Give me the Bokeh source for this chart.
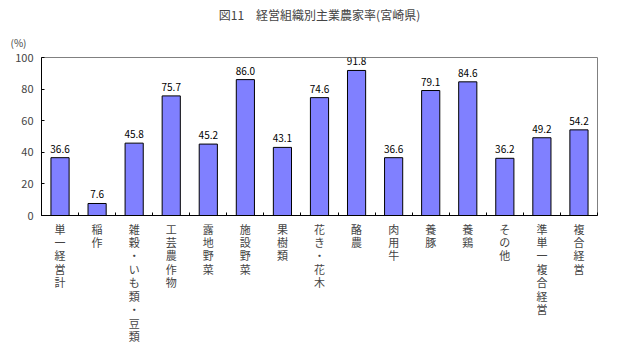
from bokeh.plotting import figure
from bokeh.models import Range1d, FixedTicker, Title, ColumnDataSource
from bokeh.core.properties import value
from bokeh.embed import file_html
from bokeh.resources import INLINE

categories = ["単一経営計", "稲作", "雑穀・いも類・豆類", "工芸農作物", "露地野菜", "施設野菜",
              "果樹類", "花き・花木", "酪農", "肉用牛", "養豚", "養鶏", "その他",
              "準単一複合経営", "複合経営"]
rates = [36.6, 7.6, 45.8, 75.7, 45.2, 86.0, 43.1, 74.6, 91.8, 36.6, 79.1, 84.6, 36.2, 49.2, 54.2]
y_ticks = [0, 20, 40, 60, 80, 100]

FONT = "Noto Sans CJK JP"
FW, FH = 556, 158
xs = [i + 0.5 for i in range(len(categories))]
src = ColumnDataSource(dict(x=xs, y=rates, lab=[f"{v:.1f}" for v in rates]))

p = figure(frame_width=FW, frame_height=FH, output_backend="svg", toolbar_location=None,
           x_range=Range1d(0, len(categories)), y_range=Range1d(0, 100),
           min_border_left=41, min_border_right=10, min_border_top=56, min_border_bottom=2)
p.title = None
p.xgrid.visible = False
p.ygrid.visible = False
p.outline_line_color = "#808080"
p.background_fill_color = "white"

p.vbar(x="x", top="y", width=0.49, source=src, fill_color="#8080FF", line_color="black", line_width=1)
p.text(x="x", y="y", text="lab", source=src, y_offset=-5, text_align="center", text_baseline="bottom",
       text_font=value(FONT), text_font_size="10px", text_color="black")

xa = p.xaxis[0]
xa.ticker = FixedTicker(ticks=xs, minor_ticks=list(range(len(categories) + 1)))
xa.major_label_overrides = {x: "\n".join(list(c)) for x, c in zip(xs, categories)}
xa.major_tick_in = 0
xa.major_tick_out = 0
xa.minor_tick_in = 3
xa.minor_tick_out = 0
xa.axis_line_color = "black"
xa.major_label_text_font = FONT
xa.major_label_text_font_size = "11px"
xa.major_label_standoff = 5
xa.major_label_text_line_height = 0.84

ya = p.yaxis[0]
ya.ticker = FixedTicker(ticks=y_ticks)
ya.major_tick_in = 3
ya.major_tick_out = 0
ya.minor_tick_line_color = None
ya.axis_line_color = "black"
ya.major_label_text_font = FONT
ya.major_label_text_font_size = "11px"
ya.major_label_standoff = 8

p.add_layout(Title(text="(%)", align="left", offset=-31, text_font=FONT, text_font_size="10px",
                   text_font_style="normal", standoff=15), "above")
p.add_layout(Title(text="図11　経営組織別主業農家率(宮崎県)", align="center", offset=-16, text_font=FONT,
                   text_font_size="12px", text_font_style="normal", standoff=6), "above")

open("out.html", "w").write(file_html(p, INLINE))
